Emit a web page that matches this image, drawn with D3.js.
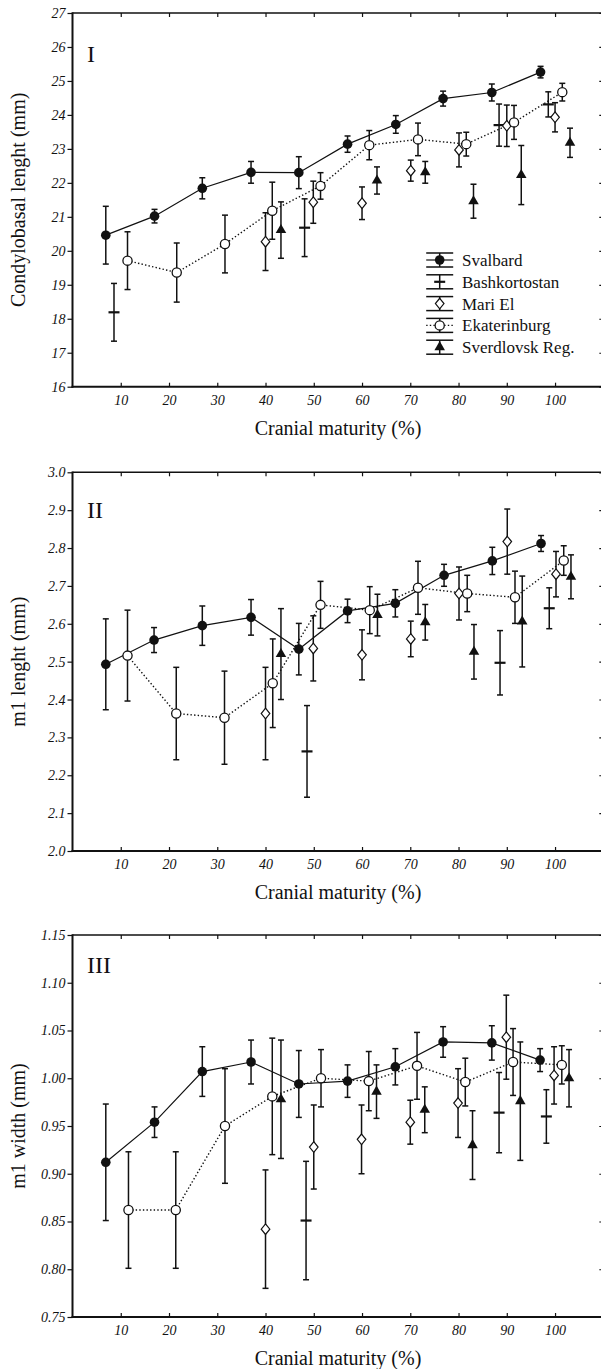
<!DOCTYPE html>
<html>
<head>
<meta charset="utf-8">
<script src="https://cdn.jsdelivr.net/npm/d3@7"></script>
<style>
  html, body { margin: 0; padding: 0; background: #fff; }
  svg { display: block; }
</style>
</head>
<body>
<script>
// ---------- DATA (each point: [cranial maturity %, mean, error half-width]) ----------
const seriesNames = ["Svalbard", "Bashkortostan", "Mari El", "Ekaterinburg", "Sverdlovsk Reg."];
const xTickValues = [10, 20, 30, 40, 50, 60, 70, 80, 90, 100];

const yTicks1 = [16, 17, 18, 19, 20, 21, 22, 23, 24, 25, 26, 27];
const yTicks2 = [2.0, 2.1, 2.2, 2.3, 2.4, 2.5, 2.6, 2.7, 2.8, 2.9, 3.0];
const yTicks3 = [0.75, 0.80, 0.85, 0.90, 0.95, 1.00, 1.05, 1.10, 1.15];

const panelLabels = ["I", "II", "III"];
const yTitles = ["Condylobasal lenght (mm)", "m1 lenght (mm)", "m1 width (mm)"];
const xTitle = "Cranial maturity (%)";

// Panel I – condylobasal length
const p1Svalbard = [[6.9,20.46,0.85],[17.0,21.02,0.2],[26.9,21.84,0.31],[37.0,22.31,0.32],[46.9,22.30,0.47],[57.0,23.14,0.24],[67.0,23.72,0.26],[76.8,24.48,0.22],[86.9,24.66,0.25],[97.0,25.26,0.17]];
const p1Bashkortostan = [[8.6,18.19,0.85],[48.1,20.68,0.85],[88.4,23.70,0.62],[98.6,24.31,0.37]];
const p1MariEl = [[40.0,20.27,0.85],[49.9,21.43,0.62],[60.0,21.40,0.48],[70.1,22.36,0.31],[80.1,22.97,0.5],[90.0,23.68,0.61],[100.0,23.93,0.43]];
const p1Ekaterinburg = [[11.4,19.71,0.85],[21.6,19.36,0.87],[31.6,20.2,0.85],[41.4,21.18,0.84],[51.4,21.91,0.39],[61.5,23.11,0.43],[71.6,23.28,0.48],[81.6,23.14,0.35],[91.5,23.78,0.5],[101.5,24.67,0.26]];
const p1Sverdlovsk = [[43.2,20.61,0.83],[63.1,22.07,0.4],[73.1,22.31,0.32],[83.1,21.46,0.5],[93.0,22.23,0.87],[103.1,23.18,0.43]];

// Panel II – m1 length
const p2Svalbard = [[6.9,2.493,0.12],[16.9,2.557,0.033],[26.9,2.595,0.052],[37.0,2.617,0.047],[46.9,2.533,0.068],[57.0,2.634,0.031],[66.9,2.654,0.036],[77.0,2.728,0.029],[87.0,2.766,0.036],[97.1,2.812,0.021]];
const p2Bashkortostan = [[48.6,2.263,0.121],[88.6,2.497,0.085],[98.8,2.641,0.054]];
const p2MariEl = [[40.0,2.363,0.122],[49.9,2.535,0.086],[60.0,2.518,0.066],[70.1,2.56,0.047],[80.1,2.68,0.07],[90.1,2.817,0.086],[100.2,2.731,0.06]];
const p2Ekaterinburg = [[11.4,2.516,0.12],[21.5,2.363,0.122],[31.5,2.352,0.123],[41.5,2.443,0.117],[51.4,2.650,0.062],[61.6,2.636,0.062],[71.6,2.695,0.07],[81.8,2.68,0.048],[91.7,2.67,0.069],[101.8,2.767,0.039]];
const p2Sverdlovsk = [[43.2,2.52,0.12],[63.2,2.623,0.055],[73.1,2.604,0.047],[83.2,2.526,0.072],[93.2,2.606,0.12],[103.3,2.724,0.058]];

// Panel III – m1 width
const p3Svalbard = [[6.9,0.912,0.061],[17.0,0.954,0.016],[26.9,1.007,0.026],[37.0,1.017,0.023],[46.9,0.994,0.035],[57.0,0.997,0.017],[66.9,1.012,0.019],[76.8,1.038,0.016],[86.9,1.037,0.018],[96.9,1.019,0.012]];
const p3Bashkortostan = [[48.4,0.851,0.062],[88.4,0.964,0.042],[98.2,0.960,0.028]];
const p3MariEl = [[40.0,0.842,0.062],[50.0,0.928,0.044],[59.9,0.936,0.036],[70.0,0.954,0.023],[79.9,0.974,0.036],[89.9,1.043,0.044],[99.8,1.003,0.03]];
const p3Ekaterinburg = [[11.6,0.862,0.061],[21.4,0.862,0.061],[31.6,0.950,0.06],[41.4,0.981,0.061],[51.5,1.0,0.03],[61.4,0.997,0.031],[71.4,1.013,0.035],[81.4,0.996,0.025],[91.3,1.017,0.035],[101.4,1.014,0.02]];
const p3Sverdlovsk = [[43.2,0.978,0.062],[63.0,0.986,0.028],[73.0,0.967,0.024],[82.9,0.930,0.036],[92.8,0.976,0.062],[102.9,1.0,0.03]];

// ---------- LAYOUT ----------
const W = 601, H = 1369;
const FONT = "'Liberation Serif','Times New Roman',Times,serif";
const INK = "#111";
const plotLeft = 72.5, plotRight = 603.3;
const panelGeo = [
  { top: 13,    bottom: 386.7, domain: [16, 27],     ticks: yTicks1, fmt: d3.format("d"),   labelY: 62 },
  { top: 472.3, bottom: 851,   domain: [2.0, 3.0],   ticks: yTicks2, fmt: d3.format(".1f"), labelY: 518 },
  { top: 935,   bottom: 1317,  domain: [0.75, 1.15], ticks: yTicks3, fmt: d3.format(".2f"), labelY: 973 }
];
const panelData = [
  [p1Svalbard, p1Bashkortostan, p1MariEl, p1Ekaterinburg, p1Sverdlovsk],
  [p2Svalbard, p2Bashkortostan, p2MariEl, p2Ekaterinburg, p2Sverdlovsk],
  [p3Svalbard, p3Bashkortostan, p3MariEl, p3Ekaterinburg, p3Sverdlovsk]
];

const svg = d3.select("body").append("svg")
  .attr("width", W).attr("height", H)
  .attr("viewBox", `0 0 ${W} ${H}`);
svg.append("rect").attr("width", W).attr("height", H).attr("fill", "#fff");

const x = d3.scaleLinear().domain([0, 110]).range([plotLeft, plotRight]);

// marker drawing
function drawMarker(g, kind, cx, cy) {
  if (kind === 0) { // filled circle
    g.append("circle").attr("cx", cx).attr("cy", cy).attr("r", 4.8).attr("fill", INK);
  } else if (kind === 1) { // horizontal dash
    g.append("line").attr("x1", cx - 5.5).attr("x2", cx + 5.5).attr("y1", cy).attr("y2", cy)
      .attr("stroke", INK).attr("stroke-width", 2.2);
  } else if (kind === 2) { // open diamond
    g.append("path").attr("transform", `translate(${cx},${cy})`)
      .attr("d", "M0,-5.3L4.3,0L0,5.3L-4.3,0Z")
      .attr("fill", "#fff").attr("stroke", INK).attr("stroke-width", 1.2);
  } else if (kind === 3) { // open circle
    g.append("circle").attr("cx", cx).attr("cy", cy).attr("r", 4.6)
      .attr("fill", "#fff").attr("stroke", INK).attr("stroke-width", 1.3);
  } else { // filled triangle
    g.append("path").attr("transform", `translate(${cx},${cy})`)
      .attr("d", d3.symbol().type(d3.symbolTriangle).size(48)())
      .attr("fill", INK);
  }
}

function errorBar(g, cx, y1, y2) {
  g.append("line").attr("x1", cx).attr("x2", cx).attr("y1", y1).attr("y2", y2)
    .attr("stroke", INK).attr("stroke-width", 1.5);
  [y1, y2].forEach(yy => g.append("line").attr("x1", cx - 3).attr("x2", cx + 3)
    .attr("y1", yy).attr("y2", yy).attr("stroke", INK).attr("stroke-width", 1.5));
}

panelGeo.forEach((geo, pi) => {
  const y = d3.scaleLinear().domain(geo.domain).range([geo.bottom, geo.top]);
  const g = svg.append("g");

  // axes
  const axL = g.append("g").attr("transform", `translate(${plotLeft},0)`)
    .call(d3.axisLeft(y).tickValues(geo.ticks).tickFormat(geo.fmt).tickSize(5).tickPadding(2));
  const axB = g.append("g").attr("transform", `translate(0,${geo.bottom})`)
    .call(d3.axisBottom(x).tickValues(xTickValues).tickSizeInner(-4).tickSizeOuter(0).tickPadding(8));
  const axT = g.append("g").attr("transform", `translate(0,${geo.top})`)
    .call(d3.axisTop(x).tickValues(xTickValues).tickSizeInner(-4).tickSizeOuter(0).tickFormat(""));
  const axR = g.append("g").attr("transform", `translate(${plotRight},0)`)
    .call(d3.axisRight(y).tickValues(geo.ticks).tickSizeInner(-4).tickSizeOuter(0).tickFormat(""));
  [axL, axB, axT, axR].forEach(a => {
    a.select(".domain").remove();
    a.selectAll(".tick line").attr("stroke", INK).attr("stroke-width", 1.2);
    a.selectAll("text").attr("fill", INK).style("font-family", FONT)
      .style("font-style", "italic").style("font-size", "14px");
  });

  // frame
  g.append("line").attr("x1", plotLeft).attr("x2", plotRight).attr("y1", geo.top).attr("y2", geo.top)
    .attr("stroke", INK).attr("stroke-width", 1.5);
  g.append("line").attr("x1", plotRight).attr("x2", plotRight).attr("y1", geo.top).attr("y2", geo.bottom)
    .attr("stroke", INK).attr("stroke-width", 1.5);
  g.append("line").attr("x1", plotLeft).attr("x2", plotLeft).attr("y1", geo.top - 0.75).attr("y2", geo.bottom + 1)
    .attr("stroke", INK).attr("stroke-width", 2);
  g.append("line").attr("x1", plotLeft - 1).attr("x2", plotRight).attr("y1", geo.bottom).attr("y2", geo.bottom)
    .attr("stroke", INK).attr("stroke-width", 2);

  // titles
  g.append("text").attr("x", 338).attr("y", geo.bottom + 48).attr("text-anchor", "middle")
    .style("font-family", FONT).style("font-size", "20px").attr("fill", INK).text(xTitle);
  const cyMid = (geo.top + geo.bottom) / 2;
  g.append("text").attr("transform", `translate(25,${cyMid}) rotate(-90)`).attr("text-anchor", "middle")
    .style("font-family", FONT).style("font-size", "20px").attr("fill", INK).text(yTitles[pi]);
  g.append("text").attr("x", 87).attr("y", geo.labelY)
    .style("font-family", FONT).style("font-size", "24px").attr("fill", INK).text(panelLabels[pi]);

  const data = panelData[pi];
  // connecting lines
  const line = d3.line().x(d => x(d[0])).y(d => y(d[1]));
  g.append("path").attr("d", line(data[3])).attr("fill", "none").attr("stroke", INK)
    .attr("stroke-width", 1.4).attr("stroke-dasharray", "1.4,2.2");
  g.append("path").attr("d", line(data[0])).attr("fill", "none").attr("stroke", INK)
    .attr("stroke-width", 1.2);

  // error bars
  data.forEach(series => series.forEach(d => errorBar(g, x(d[0]), y(d[1] + d[2]), y(d[1] - d[2]))));
  // markers
  [1, 4, 2, 3, 0].forEach(k => data[k].forEach(d => drawMarker(g, k, x(d[0]), y(d[1]))));

  // legend (panel I only)
  if (pi === 0) {
    const lx = 439.7, ly0 = 260, dy = 21.8, half = 13.5;
    seriesNames.forEach((name, k) => {
      const cy = ly0 + k * dy;
      const lg = g.append("g");
      lg.append("line").attr("x1", lx).attr("x2", lx).attr("y1", cy - 7).attr("y2", cy + 7)
        .attr("stroke", INK).attr("stroke-width", 1.5);
      [cy - 7, cy + 7].forEach(yy => lg.append("line").attr("x1", lx - half).attr("x2", lx + half)
        .attr("y1", yy).attr("y2", yy).attr("stroke", INK).attr("stroke-width", 1.5));
      if (k === 0) lg.append("line").attr("x1", lx - half).attr("x2", lx + half).attr("y1", cy).attr("y2", cy)
        .attr("stroke", INK).attr("stroke-width", 1.2);
      if (k === 3) lg.append("line").attr("x1", lx - half).attr("x2", lx + half).attr("y1", cy).attr("y2", cy)
        .attr("stroke", INK).attr("stroke-width", 1.4).attr("stroke-dasharray", "1.4,2.2");
      drawMarker(lg, k, lx, cy);
      lg.append("text").attr("x", 462).attr("y", cy).attr("dy", "0.35em")
        .style("font-family", FONT).style("font-size", "17px").attr("fill", INK).text(name);
    });
  }
});
</script>
</body>
</html>
